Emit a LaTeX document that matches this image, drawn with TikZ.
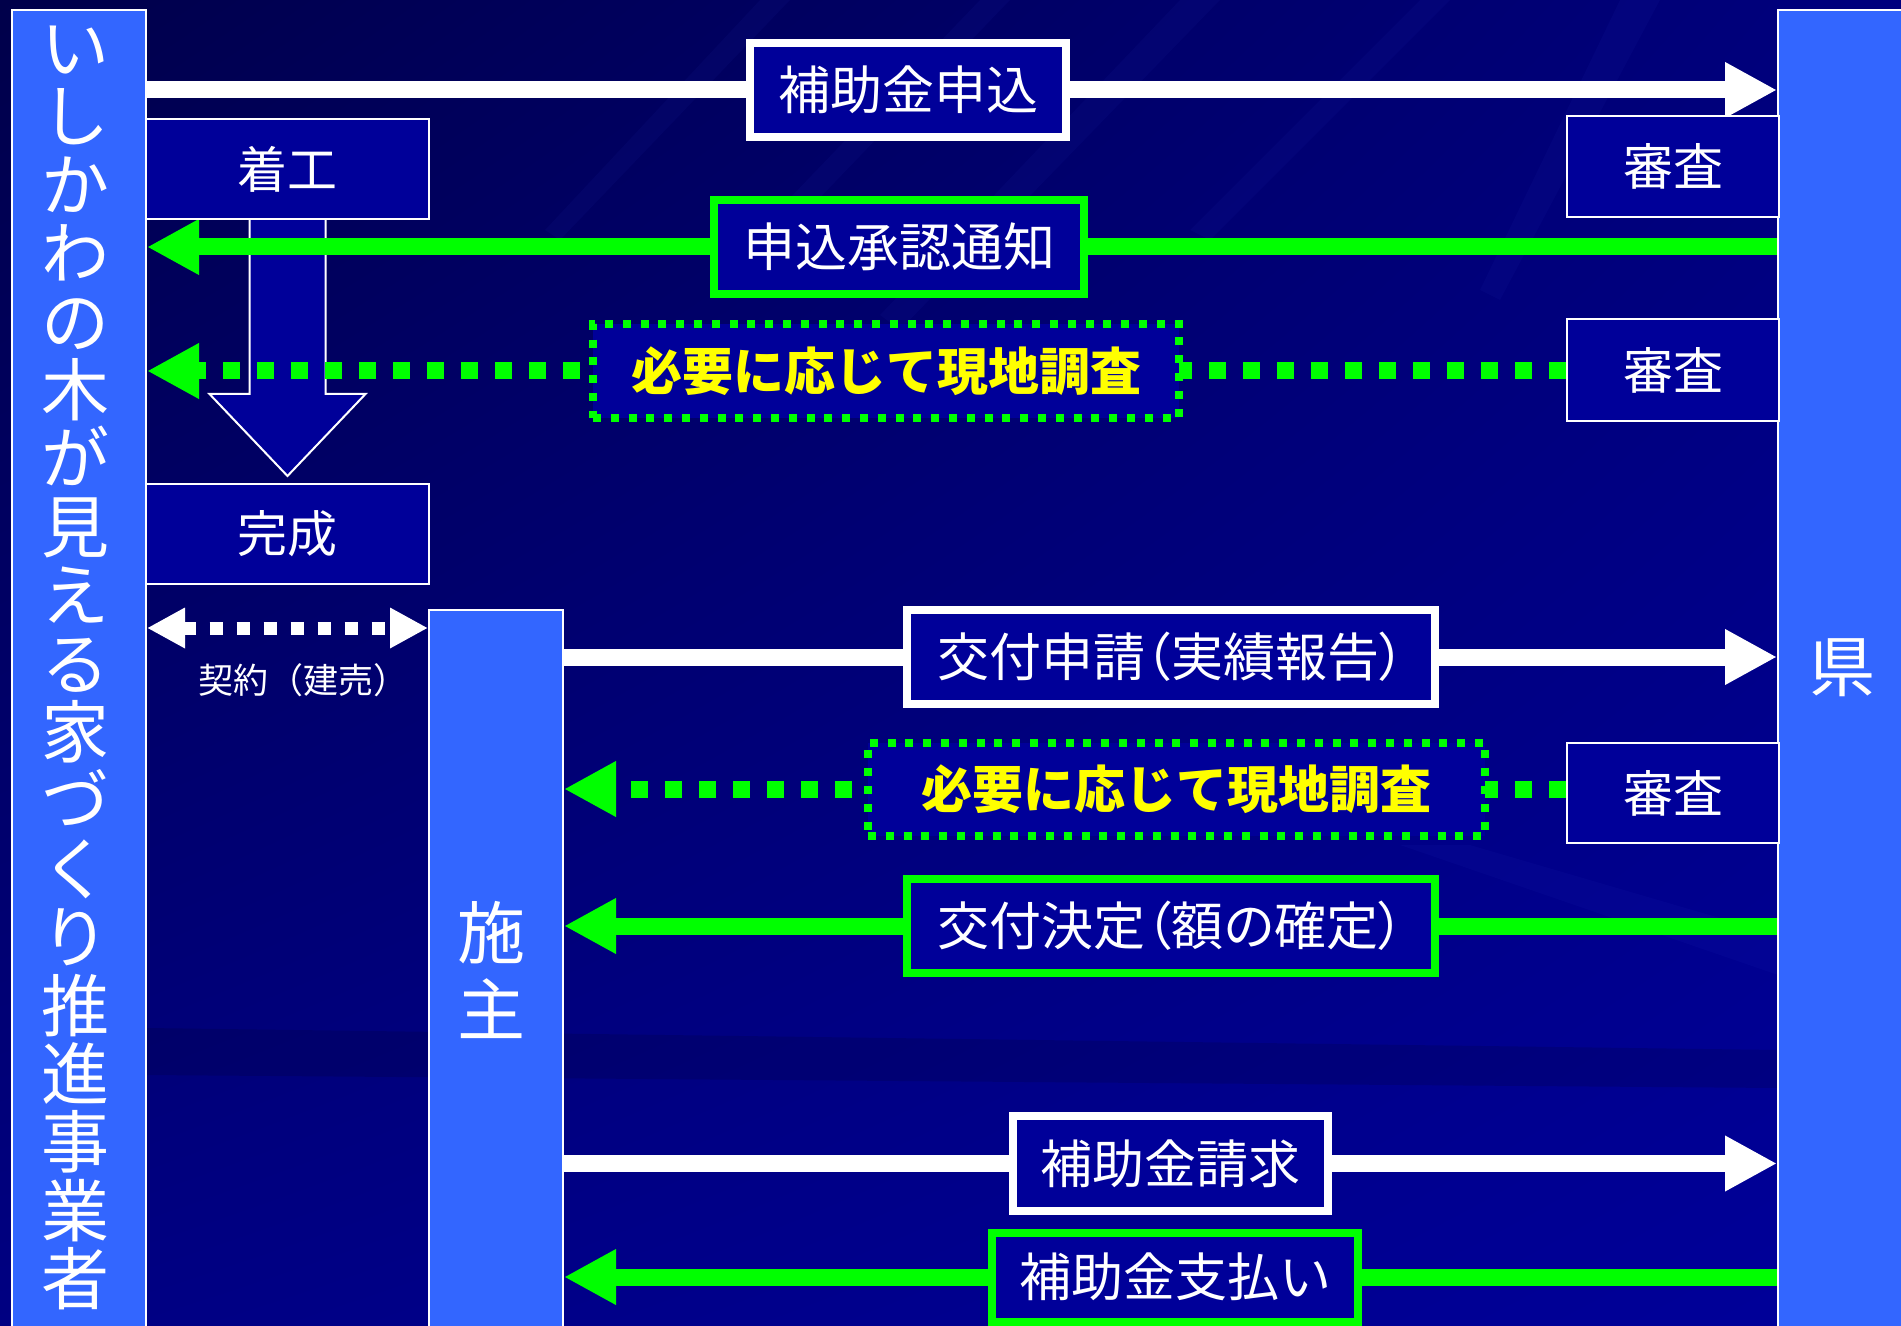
\documentclass[tikz,border=0pt]{standalone}
\usepackage{fontspec}
\newfontfamily\jp{Noto Sans CJK JP}
\newfontfamily\jpp[RawFeature=+palt]{Noto Sans CJK JP}
\usetikzlibrary{arrows.meta,calc,shadings}
\definecolor{navy}{HTML}{000099}
\definecolor{colblue}{HTML}{3366FF}
\definecolor{grn}{HTML}{00FF00}
\definecolor{yel}{HTML}{FFFF00}
\definecolor{bgA}{HTML}{00004A}
\definecolor{bgB}{HTML}{00007E}
\definecolor{bgC}{HTML}{000082}
\definecolor{bgD}{HTML}{00009A}
\definecolor{streak}{HTML}{3344DD}
\pgfdeclarelayer{bg}
\pgfdeclarelayer{conn}
\pgfsetlayers{bg,conn,main}
\tikzset{
 colnode/.style={draw=white, line width=1pt, fill=colblue, inner sep=0pt},
 coltext/.style={text=white, align=center, inner sep=0pt},
 pbox/.style={draw=white, line width=1pt, fill=navy, text=white, inner sep=0pt, font=\jp\fontsize{25}{30}\selectfont},
 lbl/.style={draw=white, line width=4pt, fill=navy, text=white, inner sep=0pt, font=\jp\fontsize{26}{30}\selectfont},
 glbl/.style={lbl, draw=grn},
 dlbl/.style={draw=grn, line width=4pt, dash pattern=on 4pt off 4.9pt, fill=navy, text=yel, inner sep=0pt, font=\jp\bfseries\fontsize{25.5}{30}\selectfont},
 headtip/.style={-{Triangle[length=26pt,width=26pt]}},
 warr/.style={draw=white, line width=8.5pt, headtip},
 garr/.style={draw=grn, line width=8.5pt, headtip},
 gdot/.style={garr, dash pattern=on 8.5pt off 8.5pt},
 cdot/.style={draw=white, line width=6.5pt, dash pattern=on 6.5pt off 7pt, {Triangle[length=19pt,width=19pt]}-{Triangle[length=19pt,width=19pt]}},
 blk/.style={draw=white, line width=1pt, fill=navy, line join=miter},
 lightstreak/.style={fill=streak, opacity=0.06},
 darkband/.style={fill=black, opacity=0.12},
}
\begin{document}
\begin{tikzpicture}[x=0.5pt,y=-0.5pt]
\useasboundingbox (0,0) rectangle (1901,1326);
\begin{pgfonlayer}{bg}
\shade[upper left=bgA, upper right=bgB, lower left=bgC, lower right=bgD] (0,0) rectangle (1901,1326);
% subtle background streaks
\fill[lightstreak] (1420,0) -- (1450,0) -- (1210,240) -- (1190,230) -- cycle;
\fill[lightstreak] (1180,0) -- (1220,0) -- (900,330) -- (880,315) -- cycle;
\fill[lightstreak] (980,0) -- (1010,0) -- (760,260) -- (740,250) -- cycle;
\fill[lightstreak] (1620,0) -- (1660,0) -- (1500,300) -- (1480,290) -- cycle;
\fill[lightstreak] (760,0) -- (790,0) -- (560,240) -- (545,230) -- cycle;
\fill[lightstreak] (1400,845) -- (1470,845) -- (1778,935) -- (1778,975) -- cycle;
\fill[darkband] (146,1028) -- (1778,1050) -- (1778,1088) -- (146,1075) -- cycle;
\end{pgfonlayer}

% columns
\node[colnode, minimum width=67pt, minimum height=665pt] (L) at (79,675) {};
\node[coltext, font=\jp\fontsize{34}{34.2}\selectfont] (Ltext) at (75,668)
 {い\\し\\か\\わ\\の\\木\\が\\見\\え\\る\\家\\づ\\く\\り\\推\\進\\事\\業\\者};
\node[colnode, minimum width=68.5pt, minimum height=665pt] (R) at (1846.5,675) {};
\node[coltext, font=\jp\fontsize{33}{36}\selectfont] (Rtext) at (1842,668) {県};
\node[colnode, minimum width=67pt, minimum height=365pt] (S) at (496,975) {};
\node[coltext, font=\jp\fontsize{34}{38.5}\selectfont] (Stext) at (491,970) {施\\主};

% process boxes
\node[pbox, minimum width=141.5pt, minimum height=50pt] (start) at (287.5,169) {着工};
\node[pbox, minimum width=141.5pt, minimum height=50pt] (done) at (287.5,534) {完成};
\node[pbox, minimum width=106pt, minimum height=50.5pt] (rev1) at (1673,166.5) {審査};
\node[pbox, minimum width=106pt, minimum height=51pt] (rev2) at (1673,370) {審査};
\node[pbox, minimum width=106pt, minimum height=50pt] (rev3) at (1673,793) {審査};

% labels
\node[lbl, minimum width=158pt, minimum height=47pt] (l1) at (908,90) {補助金申込};
\node[glbl, minimum width=184.75pt, minimum height=47pt] (l2) at (899,247) {申込承認通知};
\node[dlbl, minimum width=293pt, minimum height=47pt] (d1) at (886,371) {必要に応じて現地調査};
\node[lbl, minimum width=264pt, minimum height=47pt, font=\jpp\fontsize{26}{30}\selectfont] (l3) at (1171,657) {交付申請（実績報告）};
\node[dlbl, minimum width=308.5pt, minimum height=46.5pt] (d2) at (1176.5,789) {必要に応じて現地調査};
\node[glbl, minimum width=264pt, minimum height=47pt, font=\jpp\fontsize{26}{30}\selectfont] (l4) at (1171,926) {交付決定（額の確定）};
\node[lbl, minimum width=157.5pt, minimum height=47.5pt] (l5) at (1170.5,1163.5) {補助金請求};
\node[glbl, minimum width=183.25pt, minimum height=44.5pt] (l6) at (1175,1277) {補助金支払い};

\node[coltext, font=\jp\fontsize{17.5}{22}\selectfont] (ctext) at (303,680) {契約（建売）};
\coordinate (cy) at (0,628);

\begin{pgfonlayer}{conn}
\draw[blk] ($(start.south)+(-38,0)$) -- ($(start.south)+(-38,174)$) -- ($(start.south)+(-78,174)$)
  -- ($(done.north)+(0,-7)$) -- ($(start.south)+(78,174)$) -- ($(start.south)+(38,174)$) -- ($(start.south)+(38,0)$);
\draw[warr] (L.east |- l1) -- (R.west |- l1);
\draw[garr] (R.west |- l2) -- (L.east |- l2);
\draw[gdot] (rev2.west |- d1) -- (L.east |- d1);
\draw[cdot] (L.east |- cy) -- (S.west |- cy);
\draw[warr] (S.east |- l3) -- (R.west |- l3);
\draw[gdot] (rev3.west |- d2) -- (S.east |- d2);
\draw[garr] (R.west |- l4) -- (S.east |- l4);
\draw[warr] (S.east |- l5) -- (R.west |- l5);
\draw[garr] (R.west |- l6) -- (S.east |- l6);
\end{pgfonlayer}
\end{tikzpicture}
\end{document}
